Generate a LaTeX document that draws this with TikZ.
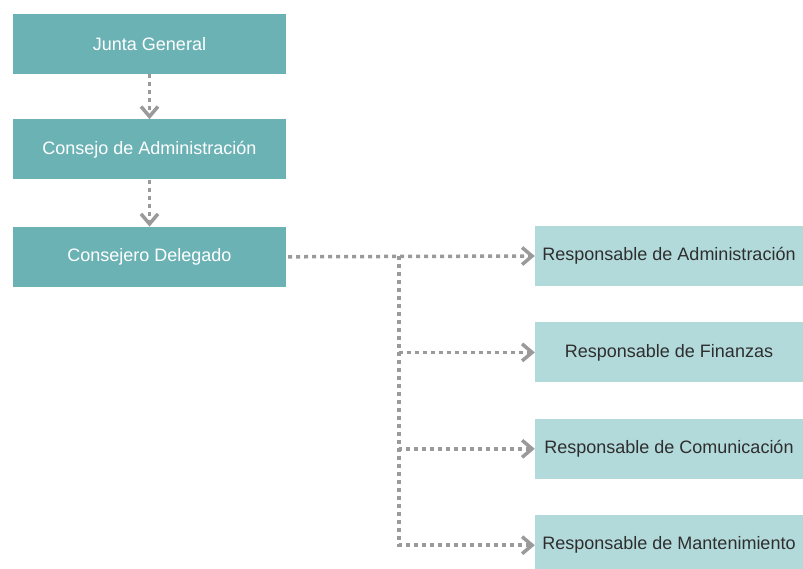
\documentclass[tikz,border=0pt]{standalone}
\usepackage{fontspec}
\setmainfont{Liberation Sans}
\usepackage{xcolor}
\usetikzlibrary{positioning, arrows.meta}

\definecolor{tealdark}{HTML}{6BB2B5}
\definecolor{teallight}{HTML}{B3DADB}
\definecolor{linkgray}{HTML}{9A9A9A}
\definecolor{textdark}{HTML}{2E2E2E}

\begin{document}
\begin{tikzpicture}[
    x=1pt, y=-1pt,
    board/.style={rectangle, fill=tealdark, text=white, minimum width=273pt, minimum height=60pt, inner sep=0pt, font=\fontsize{18}{21}\selectfont},
    resp/.style={rectangle, fill=teallight, text=textdark, minimum width=268pt, minimum height=60pt, inner sep=0pt, font=\fontsize{18}{21}\selectfont},
    link/.style={draw=linkgray, line width=3.5pt, dash pattern=on 4pt off 4pt, -{Straight Barb[length=10pt, width=17pt, line width=3.5pt]}}
]
    \clip (0,0) rectangle (803,568);
    \useasboundingbox (0,0) rectangle (803,568);

    \node[board] (junta) at (149.5,44) {Junta General};
    \node[board, below=45pt of junta] (consejo) {Consejo de Administración};
    \node[board, below=47pt of consejo] (delegado) {Consejero Delegado};

    \node[resp] (admin) at (669,256) {Responsable de Administración};
    \node[resp, below=36pt of admin] (finanzas) {Responsable de Finanzas};
    \node[resp, below=36pt of finanzas] (comunic) {Responsable de Comunicación};
    \node[resp, below=36pt of comunic] (manten) {Responsable de Mantenimiento};

    \coordinate (split) at (399,256);

    \draw[link] (junta) -- (consejo);
    \draw[link] (consejo) -- (delegado);
    \draw[link] (delegado.east) ++(2pt,0) -- (admin.west);
    \draw[link] (split) |- (finanzas.west);
    \draw[link] (split) |- (comunic.west);
    \draw[link] (split) |- (manten.west);
\end{tikzpicture}
\end{document}
